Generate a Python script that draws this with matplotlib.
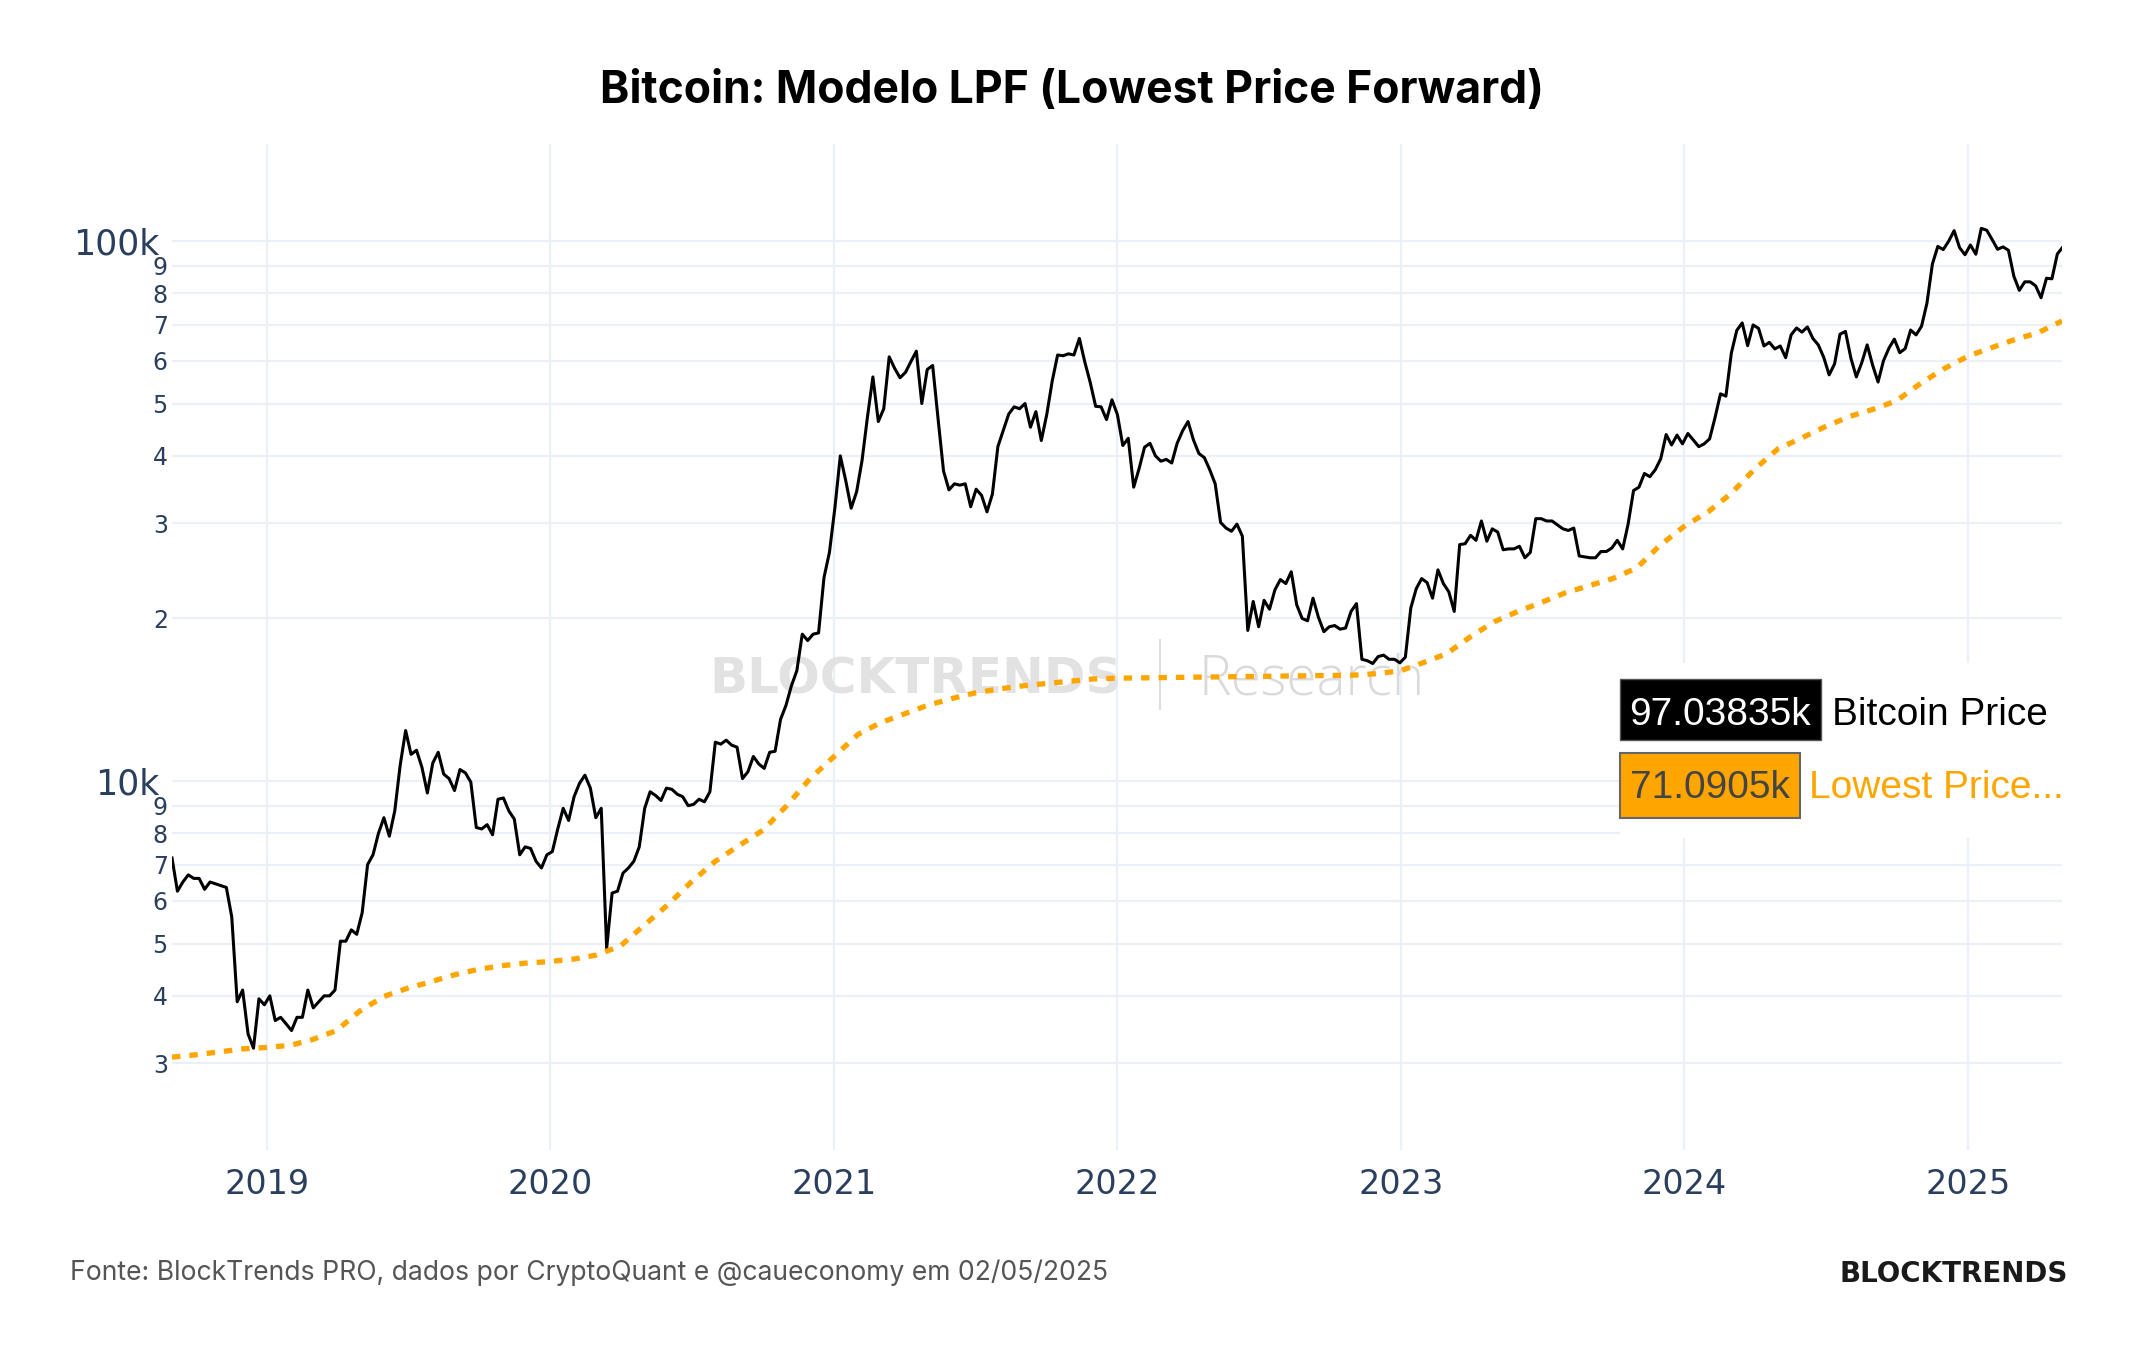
import matplotlib
matplotlib.use("Agg")
import matplotlib.pyplot as plt
import matplotlib.dates as mdates
from matplotlib.patches import Rectangle
import pandas as pd

# Bitcoin price, weekly samples (each list starts on its own date)
btc_2018 = [7200, 6250, 6500, 6700, 6600, 6600, 6300, 6500, 6450, 6400, 6350, 5600,
            3900, 4100, 3400, 3200, 3950, 3850]
btc_2019 = [4000, 3600, 3650, 3550, 3450, 3650, 3650, 4100, 3800, 3900, 4000, 4000, 4100,
            5050, 5050, 5300, 5200, 5700, 7000, 7300, 8000, 8550, 7900, 8800, 10700, 12400,
            11200, 11400, 10600, 9500, 10800, 11300, 10300, 10100, 9600, 10500, 10350, 9950, 8200,
            8150, 8300, 7950, 9250, 9300, 8800, 8500, 7300, 7550, 7500, 7100, 6900, 7300]
btc_2020 = [7400, 8150, 8900, 8450, 9350, 9900, 10250, 9700, 8550,
            8900, 4900, 6200, 6250, 6750, 6900, 7100, 7550,
            8900, 9550, 9400, 9200, 9700, 9650, 9450, 9350, 9000,
            9050, 9250, 9150, 9550, 11800, 11700, 11900, 11650, 11550,
            10100, 10400, 11100, 10750, 10550, 11300, 11350, 13000, 13800,
            15000, 16000, 18700, 18200, 18700, 18800, 23800, 26500]
btc_2021 = [32000, 40000, 36000, 32000, 34300, 39200, 47200, 56000, 46300,
            48900, 61000, 58100, 55800, 57100, 59800, 62500, 50000,
            57800, 58800, 46800, 37500, 34600, 35500, 35300, 35500, 32200,
            34700, 33800, 31500, 34000, 41600, 44600, 47800, 49300, 48900,
            50000, 45200, 48300, 42700, 47700, 55000, 61500, 61300, 61800,
            61500, 66000, 59700, 54700, 49400, 49300, 46700, 50800]
btc_2022 = [47700, 41800, 43100, 35000, 37900, 41500, 42200, 40000, 39100,
            39400, 38800, 42200, 44500, 46300, 42800, 40400, 39700, 37700,
            35500, 30100, 29400, 29000, 29900, 28400, 19000, 21500,
            19300, 21600, 20800, 22600, 23600, 23200, 24400, 21200, 20000,
            19800, 21800, 20100, 18900, 19300, 19400, 19100, 19200, 20600,
            21300, 16800, 16700, 16500, 17000, 17100, 16800, 16800, 16550]
btc_2023 = [16950, 20900, 22700, 23700, 23300, 21800, 24600, 23200,
            22400, 20600, 27400, 27500, 28500, 27900, 30300, 27800, 29300,
            28900, 26800, 26900, 26900, 27200, 25900, 26500, 30600,
            30600, 30300, 30300, 29800, 29300, 29100, 29400, 26100, 26000,
            25900, 25900, 26600, 26600, 27000, 27900, 26900, 29900, 34500,
            35000, 37100, 36600, 37700, 39500, 43800, 41900, 43700, 42100]
btc_2024 = [44000, 42800, 41600, 42100, 43000, 47100, 52100, 51600,
            62000, 68300, 70500, 64000, 69900, 68900, 63900, 64900, 63100,
            63900, 60800, 67000, 69000, 67800, 69300, 66000, 64200, 60900,
            56500, 59200, 67200, 68000, 60700, 56000, 59500, 64200, 58900,
            54800, 60000, 63300, 65800, 62100, 63200, 68400, 67000,
            69500, 76700, 90600, 97700, 96400, 99900, 104500, 97200, 94300]
btc_2025 = [98300, 94500, 105500, 104700, 100600, 96500, 97500, 96100,
            86000, 81000, 84000, 84000, 82600, 78500, 85300, 85100, 94600]
btc_starts = ["2018-09-01", "2019-01-05", "2020-01-04", "2021-01-02",
              "2022-01-01", "2023-01-07", "2024-01-06", "2025-01-04"]
btc_last_date = "2025-05-02"
btc_last = 97038.35

# Lowest Price Forward, monthly (first of month) from Sep 2018
lpf_2018 = [3080, 3110, 3150, 3190]
lpf_2019 = [3210, 3240, 3320, 3450, 3750, 3990, 4130, 4250, 4380, 4480, 4550, 4600]
lpf_2020 = [4630, 4680, 4760, 4950, 5400, 5900, 6500, 7100, 7600, 8100, 9000, 10100]
lpf_2021 = [11100, 12200, 12800, 13300, 13800, 14200, 14550, 14800, 15000, 15150, 15300, 15450]
lpf_2022 = [15500, 15520, 15540, 15560, 15580, 15600, 15620, 15640, 15660, 15680, 15700, 15800]
lpf_2023 = [16000, 16600, 17200, 18500, 19700, 20600, 21400, 22300, 23000, 23700, 24800, 27300]
lpf_2024 = [29600, 31500, 34000, 37800, 41200, 43200, 45300, 47300, 48800, 50600, 54500, 58000]
lpf_2025 = [61200, 63500, 65600, 67600]
lpf_last = 71090.5

years = [2019, 2020, 2021, 2022, 2023, 2024, 2025]
y_major = [10000, 100000]
y_major_labels = ["10k", "100k"]
y_minor = [3000, 4000, 5000, 6000, 7000, 8000, 9000,
           20000, 30000, 40000, 50000, 60000, 70000, 80000, 90000]
y_minor_labels = ["3", "4", "5", "6", "7", "8", "9",
                  "2", "3", "4", "5", "6", "7", "8", "9"]

W, H = 2144, 1350


def fx(x):
    return x / W


def fy(y):
    return 1 - y / H


def main():
    plt.rcParams["font.family"] = "DejaVu Sans"

    # build the series
    btc_dates, btc_vals = [], []
    for start, vals in zip(btc_starts, [btc_2018, btc_2019, btc_2020, btc_2021,
                                        btc_2022, btc_2023, btc_2024, btc_2025]):
        btc_dates += list(pd.date_range(start, periods=len(vals), freq="7D"))
        btc_vals += vals
    btc_dates.append(pd.Timestamp(btc_last_date))
    btc_vals.append(btc_last)

    lpf_vals = lpf_2018 + lpf_2019 + lpf_2020 + lpf_2021 + lpf_2022 + lpf_2023 + lpf_2024 + lpf_2025
    lpf_dates = list(pd.date_range("2018-09-01", periods=len(lpf_vals), freq="MS"))
    lpf_dates.append(pd.Timestamp(btc_last_date))
    lpf_vals = lpf_vals + [lpf_last]

    fig = plt.figure(figsize=(W / 100, H / 100), dpi=100)
    ax = fig.add_axes([fx(172), fy(1150), fx(2062) - fx(172), fy(144) - fy(1150)])

    ax.plot(mdates.date2num(btc_dates), btc_vals, color="black", lw=2.2, zorder=3)
    ax.plot(mdates.date2num(lpf_dates), lpf_vals, color="#FFA500", lw=3.8,
            dashes=(1.6, 1.7), dash_capstyle="butt", zorder=4)

    ax.set_yscale("log")
    ax.set_ylim(2073, 151200)
    ax.set_xlim(mdates.date2num(pd.Timestamp("2018-09-01")),
                mdates.date2num(pd.Timestamp(btc_last_date)))

    ax.set_xticks([mdates.date2num(pd.Timestamp(f"{y}-01-01")) for y in years],
                  labels=[str(y) for y in years])
    ax.set_yticks(y_major, labels=y_major_labels)
    ax.set_yticks(y_minor, labels=y_minor_labels, minor=True)

    tick_color = "#2a3f5f"
    ax.tick_params(axis="x", length=0, pad=13, labelsize=24, labelcolor=tick_color)
    ax.tick_params(axis="y", which="major", length=0, pad=9, labelsize=25, labelcolor=tick_color)
    ax.tick_params(axis="y", which="minor", length=0, pad=3, labelsize=17, labelcolor=tick_color)
    ax.grid(which="both", color="#ebf0f8", lw=1.6)
    ax.set_axisbelow(True)
    for s in ax.spines.values():
        s.set_visible(False)

    # watermark behind the lines
    ax.text(fx(916), fy(693), "BLOCKTRENDS", transform=fig.transFigure, ha="center",
            va="baseline", fontsize=36, fontweight="bold", color="#e2e2e2", zorder=1)
    ax.plot([fx(1160), fx(1160)], [fy(640), fy(709)], transform=fig.transFigure,
            color="#dddddd", lw=1.5, zorder=1, clip_on=False)
    ax.text(fx(1198), fy(694), "Research", transform=fig.transFigure, ha="left",
            va="baseline", fontsize=39.5, fontweight="light", family="Open Sans",
            color="#dadada", zorder=1)

    # hover-style labels on the right
    fig.patches.append(Rectangle((fx(1620), fy(838)), fx(2075) - fx(1620), fy(663) - fy(838),
                                 transform=fig.transFigure, facecolor="white",
                                 edgecolor="none", zorder=5))
    fig.patches.append(Rectangle((fx(1620), fy(740)), fx(1821) - fx(1620), fy(679) - fy(740),
                                 transform=fig.transFigure, facecolor="black",
                                 edgecolor="#555555", lw=1, zorder=6))
    fig.patches.append(Rectangle((fx(1620), fy(818)), fx(1800) - fx(1620), fy(753) - fy(818),
                                 transform=fig.transFigure, facecolor="#FFA500",
                                 edgecolor="#666666", lw=1.5, zorder=6))
    lab_font = "Liberation Sans"
    fig.text(fx(1720), fy(725), f"{btc_last / 1000:.7g}k", ha="center", va="baseline",
             fontsize=28, family=lab_font, color="white", zorder=7)
    fig.text(fx(1832), fy(725), "Bitcoin Price", ha="left", va="baseline",
             fontsize=28, family=lab_font, color="black", zorder=7)
    fig.text(fx(1710), fy(798), f"{lpf_last / 1000:.6g}k", ha="center", va="baseline",
             fontsize=28, family=lab_font, color="#444444", zorder=7)
    fig.text(fx(1809), fy(798), "Lowest Price...", ha="left", va="baseline",
             fontsize=28, family=lab_font, color="#FFA500", zorder=7)

    # title and footer
    fig.text(0.5, fy(103), "Bitcoin: Modelo LPF (Lowest Price Forward)", ha="center",
             va="baseline", fontsize=32, fontweight="bold", family="Inter", color="black")
    fig.text(fx(70), fy(1280), "Fonte: BlockTrends PRO, dados por CryptoQuant e @caueconomy em 02/05/2025",
             ha="left", va="baseline", fontsize=19.1, family="Inter", color="#555555")
    fig.text(fx(2068), fy(1282), "BLOCKTRENDS", ha="right", va="baseline",
             fontsize=20, fontweight="heavy", color="#1a1a1a")

    fig.savefig("out.png", dpi=100, facecolor="white")


if __name__ == "__main__":
    main()
